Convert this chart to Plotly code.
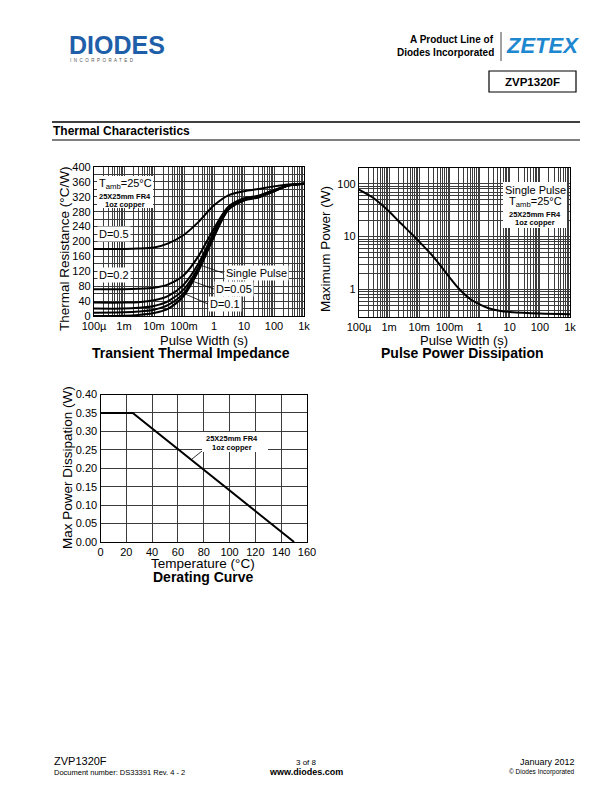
import plotly.graph_objects as go

# the page body has an 8px margin, so the figure is drawn 8px smaller and everything
# is placed in page pixel coordinates through px()/py()
PAGE_W, PAGE_H = 612, 792
OFF = 8
W, H = PAGE_W - OFF, PAGE_H - OFF
FONT = "Liberation Sans, Arial, sans-serif"

# Transient thermal impedance (°C/W) vs pulse width (s)
pulse_t = [1e-4, 1e-3, 3e-3, 1e-2, 3e-2, 0.1, 0.3, 1, 3, 10, 30, 100, 300, 1000]
zth_d05 = [180, 180, 181, 184, 195, 218, 252, 297, 324, 335, 341, 348, 353, 355]
zth_d02 = [72, 72, 73, 76, 85, 110, 160, 235, 293, 316, 323, 338, 350, 355]
zth_d01 = [36, 36, 37, 42, 54, 85, 140, 225, 290, 313, 321, 337, 351, 355]
zth_d005 = [20, 20, 22, 27, 40, 72, 130, 220, 288, 312, 320, 336, 350, 355]
zth_d002 = [9, 10, 12, 17, 30, 62, 125, 216, 286, 311, 319, 335, 350, 355]
zth_single = [0, 1, 3, 8, 20, 55, 120, 212, 285, 310, 318, 335, 350, 355]

# Pulse power dissipation (W), single pulse
pw_t = [1e-4, 3e-4, 1e-3, 2e-3, 5e-3, 1e-2, 3e-2, 0.1, 0.2, 0.5, 1, 2, 5, 10, 100, 1000]
pw_p = [78, 54, 30, 20, 12, 8, 4.1, 1.7, 1.05, 0.65, 0.52, 0.44, 0.39, 0.375, 0.35, 0.34]

# Derating curve
derate_temp = [0, 25, 150]
derate_pow = [0.35, 0.35, 0.0]

# tick labels
time_ticks = [1e-4, 1e-3, 1e-2, 1e-1, 1, 10, 100, 1000]
time_labels = ["100µ", "1m", "10m", "100m", "1", "10", "100", "1k"]
zth_ticks = list(range(0, 401, 20))
zth_labels = [str(v) if v % 40 == 0 else "" for v in zth_ticks]
pw_ticks = [1, 10, 100]
pw_labels = ["1", "10", "100"]
temp_ticks = list(range(0, 161, 20))
diss_ticks = [0.0, 0.05, 0.10, 0.15, 0.20, 0.25, 0.30, 0.35, 0.40]
diss_labels = ["%.2f" % v for v in diss_ticks]


def px(x):
    return (x - OFF) / W


def py(y):
    return 1 - (y - OFF) / H


def log_grid(lo, hi):
    vals = []
    for k in range(lo, hi):
        for m in range(1, 10):
            vals.append(m * 10.0 ** k)
    vals.append(10.0 ** hi)
    return vals


def match(v, ticks, labels):
    for t, s in zip(ticks, labels):
        if abs(v - t) < 1e-9 * max(1.0, t):
            return s
    return ""


t_grid = log_grid(-4, 3)
t_text = [match(v, time_ticks, time_labels) for v in t_grid]
p_grid = [0.3, 0.4, 0.5, 0.6, 0.7, 0.8, 0.9] + log_grid(0, 2) + [200]
p_text = [match(v, pw_ticks, pw_labels) for v in p_grid]

fig = go.Figure()

line = dict(color="black", width=2)
for ys in [zth_d05, zth_d02, zth_d01, zth_d005, zth_d002, zth_single]:
    fig.add_trace(go.Scatter(x=pulse_t, y=ys, mode="lines", line=dict(line, shape="spline", smoothing=0.8),
                             xaxis="x", yaxis="y", showlegend=False))

fig.add_trace(go.Scatter(x=pw_t, y=pw_p, mode="lines", line=dict(line, shape="spline", smoothing=0.8),
                         xaxis="x2", yaxis="y2", showlegend=False))

fig.add_trace(go.Scatter(x=derate_temp, y=derate_pow, mode="lines", line=line,
                         xaxis="x3", yaxis="y3", showlegend=False))

ax = dict(showline=True, mirror=True, linecolor="black", linewidth=1.3, automargin=False,
          showgrid=True, gridcolor="#3c3c3c", gridwidth=0.6, ticks="", zeroline=False,
          tickfont=dict(family=FONT, size=11, color="black"))

fig.update_layout(
    template="none",
    width=W, height=H, margin=dict(l=0, r=0, t=0, b=0, autoexpand=False),
    paper_bgcolor="white", plot_bgcolor="white",
    font=dict(family=FONT, color="black"),
    xaxis=dict(ax, type="log", range=[-4, 3], domain=[px(94), px(304)],
               tickvals=t_grid, ticktext=t_text, anchor="y"),
    yaxis=dict(ax, range=[0, 400], domain=[py(316), py(167)],
               tickvals=zth_ticks, ticktext=zth_labels, anchor="x"),
    xaxis2=dict(ax, type="log", range=[-4, 3], domain=[px(359), px(570)],
                tickvals=t_grid, ticktext=t_text, anchor="y2"),
    yaxis2=dict(ax, type="log", range=[-0.523, 2.301], domain=[py(317), py(168)],
                tickvals=p_grid, ticktext=p_text, anchor="x2"),
    xaxis3=dict(ax, range=[0, 160], domain=[px(100.5), px(307)],
                tickvals=temp_ticks, anchor="y3"),
    yaxis3=dict(ax, range=[0, 0.40], domain=[py(542), py(394.5)],
                tickvals=diss_ticks, ticktext=diss_labels, anchor="x3"),
)

shapes = []
annots = []


def text(x, y, s, size=11, bold=False, xanchor="center", color="black", angle=0, **kw):
    if bold:
        s = "<b>%s</b>" % s
    annots.append(dict(x=px(x), y=py(y), xref="paper", yref="paper", text=s, showarrow=False,
                       xanchor=xanchor, yanchor="middle", textangle=angle,
                       font=dict(family=FONT, size=size, color=color), **kw))


def hline(x0, x1, y, w=1.0):
    shapes.append(dict(type="line", xref="paper", yref="paper", x0=px(x0), x1=px(x1),
                       y0=py(y), y1=py(y), line=dict(color="black", width=w)))


def seg(x0, y0, x1, y1, w=0.8):
    shapes.append(dict(type="line", xref="paper", yref="paper", x0=px(x0), x1=px(x1),
                       y0=py(y0), y1=py(y1), line=dict(color="black", width=w), layer="above"))


def box(x0, y0, x1, y1):
    shapes.append(dict(type="rect", xref="paper", yref="paper", x0=px(x0), x1=px(x1),
                       y0=py(y1), y1=py(y0), fillcolor="white",
                       line=dict(color="white", width=0), layer="above"))


# header
text(67, 45, "DIODES", size=25, bold=True, xanchor="left", color="#1f5ea8")
text(68, 60, "I  N  C  O  R  P  O  R  A  T  E  D", size=4.5, xanchor="left", color="#555")
text(496, 39, "A Product Line of", size=10, bold=True, xanchor="right")
text(496, 52, "Diodes Incorporated", size=10, bold=True, xanchor="right")
shapes.append(dict(type="line", xref="paper", yref="paper", x0=px(501), x1=px(501),
                   y0=py(32), y1=py(61), line=dict(color="#444", width=1)))
text(504, 46, "<i>ZETEX</i>", size=22, bold=True, xanchor="left", color="#1d87cf")
shapes.append(dict(type="rect", xref="paper", yref="paper", x0=px(489), x1=px(576),
                   y0=py(92), y1=py(71), line=dict(color="black", width=1.2)))
text(532.5, 82, "ZVP1320F", size=11.5, bold=True)
hline(52, 580, 122, 1.3)
hline(52, 580, 140, 1.0)
text(51, 131, "Thermal Characteristics", size=12, bold=True, xanchor="left")

# chart 1 labels
box(97, 176, 153, 208)
text(125, 184, "T<sub>amb</sub>=25°C", size=11)
text(125, 196, "25X25mm FR4", size=7.5, bold=True)
text(125, 204, "1oz copper", size=7.5, bold=True)
text(114, 234, "D=0.5", size=11, bgcolor="white")
text(114, 275, "D=0.2", size=11, bgcolor="white")
seg(223, 273, 200, 265)
seg(214, 289, 192, 281)
seg(208, 304, 183, 293)
text(256, 273, "Single Pulse", size=11, bgcolor="white")
text(234, 289, "D=0.05", size=11, bgcolor="white")
text(225, 304, "D=0.1", size=11, bgcolor="white")
text(64, 249, "Thermal Resistance (°C/W)", size=13.5, angle=-90)
text(204, 340, "Pulse Width (s)", size=13)
text(191, 353, "Transient Thermal Impedance", size=14, bold=True)

# chart 2 labels
box(503, 182, 567, 228)
text(535, 190, "Single Pulse", size=11)
text(535, 202, "T<sub>amb</sub>=25°C", size=11)
text(535, 214, "25X25mm FR4", size=7.5, bold=True)
text(535, 222, "1oz copper", size=7.5, bold=True)
text(325, 249, "Maximum Power (W)", size=13.5, angle=-90)
text(464, 340, "Pulse Width (s)", size=13)
text(462, 353, "Pulse Power Dissipation", size=14, bold=True)

# chart 3 labels
box(202, 432, 268, 452)
text(232, 438, "25X25mm FR4", size=7.5, bold=True)
text(232, 447, "1oz copper", size=7.5, bold=True)
seg(202, 451, 192, 459)
text(67, 468, "Max Power Dissipation (W)", size=13.5, angle=-90)
text(203, 563, "Temperature (°C)", size=13.5)
text(203, 577, "Derating Curve", size=14, bold=True)

# footer
text(52, 761, "ZVP1320F", size=11, xanchor="left")
text(52, 772, "Document number: DS33391 Rev. 4 - 2", size=7.5, xanchor="left")
text(306, 762, "3 of 8", size=8)
text(306, 772, "www.diodes.com", size=9, bold=True)
text(577, 762, "January 2012", size=9, xanchor="right")
text(577, 772, "© Diodes Incorporated", size=6.5, xanchor="right")

fig.update_layout(shapes=shapes, annotations=annots)
fig.write_html("out.html")
